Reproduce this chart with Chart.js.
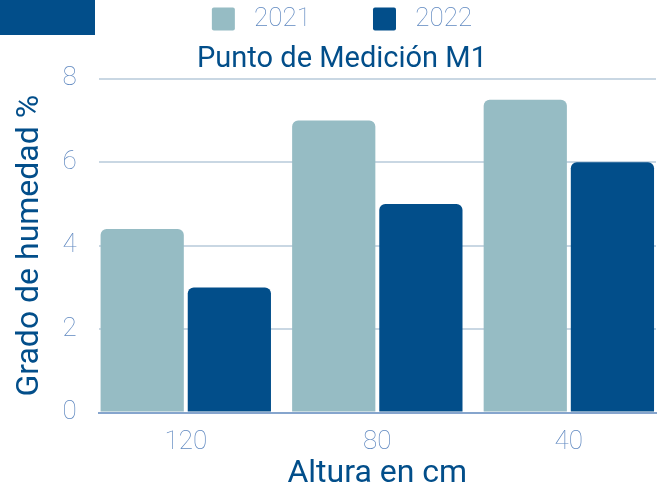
<!DOCTYPE html>
<html>
<head>
<meta charset="utf-8">
<script src="https://cdn.jsdelivr.net/npm/chart.js@4/dist/chart.umd.min.js"></script>
<style>
    html, body { margin: 0; padding: 0; background: #fff; }
    #wrap { position: relative; width: 663px; height: 492px; }
    #corner { position: absolute; left: 0; top: 0; width: 95px; height: 35px; background: #024e8a; }
</style>
</head>
<body>
<div id="wrap">
    <div id="corner"></div>
    <canvas id="myChart" width="663" height="492"></canvas>
</div>
<script>
const categories = ['120', '80', '40'];
const seriesNames = ['2021', '2022'];
const series2021 = [4.4, 7.0, 7.5];
const series2022 = [3.0, 5.0, 6.0];
const yTicks = [0, 2, 4, 6, 8];

const darkBlue = '#024e8a';
const lightBlue = '#96bcc4';
const tickColor = '#5f88c0';
const groupPct = 0.91;

const ctx = document.getElementById('myChart').getContext('2d');

new Chart(ctx, {
    type: 'bar',
    data: {
        labels: categories,
        datasets: [
            {
                label: seriesNames[0],
                data: series2021,
                backgroundColor: lightBlue,
                borderRadius: { topLeft: 6, topRight: 6 },
                borderSkipped: 'bottom',
            },
            {
                label: seriesNames[1],
                data: series2022,
                backgroundColor: darkBlue,
                borderRadius: { topLeft: 6, topRight: 6 },
                borderSkipped: 'bottom',
            },
        ],
    },
    options: {
        responsive: false,
        animation: false,
        layout: { padding: { left: 28, right: 7, top: 0, bottom: 0 } },
        datasets: {
            bar: {
                categoryPercentage: groupPct,
                barPercentage: 0.955,
            },
        },
        plugins: {
            legend: {
                display: true,
                position: 'top',
                labels: {
                    boxWidth: 23,
                    boxHeight: 23,
                    padding: 6,
                    useBorderRadius: true,
                    borderRadius: 2,
                    color: tickColor,
                    font: { family: 'Roboto', size: 26, weight: '100' },
                    generateLabels: function (chart) {
                        const items = Chart.defaults.plugins.legend.labels.generateLabels(chart);
                        items.forEach(function (item, i) {
                            item.text = ' ' + item.text + (i === 0 ? '         ' : '');
                        });
                        return items;
                    },
                },
            },
            title: {
                display: true,
                weight: 500,
                text: 'Punto de Medición M1',
                color: darkBlue,
                font: { family: 'Roboto', size: 29, weight: '400', lineHeight: 1.2 },
                padding: { top: 0, bottom: 2 },
            },
            tooltip: { enabled: false },
        },
        scales: {
            x: {
                grid: { display: false, drawTicks: false },
                border: { display: true, color: '#86a5cd', width: 2 },
                ticks: {
                    color: tickColor,
                    font: { family: 'Roboto', size: 26, weight: '100', lineHeight: 1.2 },
                    padding: 14,
                },
                title: {
                    display: true,
                    text: 'Altura en cm',
                    color: darkBlue,
                    font: { family: 'Roboto', size: 32, weight: '400', lineHeight: 1.1 },
                    padding: { top: -15, bottom: 0 },
                },
                afterUpdate: function (axis) {
                    // bar groups touch both edges of the plot area
                    axis._startValue = -groupPct / 2;
                    axis._valueRange = (categories.length - 1) + groupPct;
                },
            },
            y: {
                min: 0,
                max: 8,
                afterBuildTicks: function (axis) {
                    axis.ticks = yTicks.map(function (v) { return { value: v }; });
                },
                grid: { color: '#c9d7e3', lineWidth: 2, drawTicks: false },
                border: { display: false },
                ticks: {
                    color: tickColor,
                    font: { family: 'Roboto', size: 26, weight: '100' },
                    padding: 22,
                },
                title: {
                    display: true,
                    text: 'Grado de humedad %',
                    color: darkBlue,
                    font: { family: 'Roboto', size: 32, weight: '400', lineHeight: 1.2 },
                    padding: { top: -17, bottom: -9 },
                },
            },
        },
    },
});
</script>
</body>
</html>
